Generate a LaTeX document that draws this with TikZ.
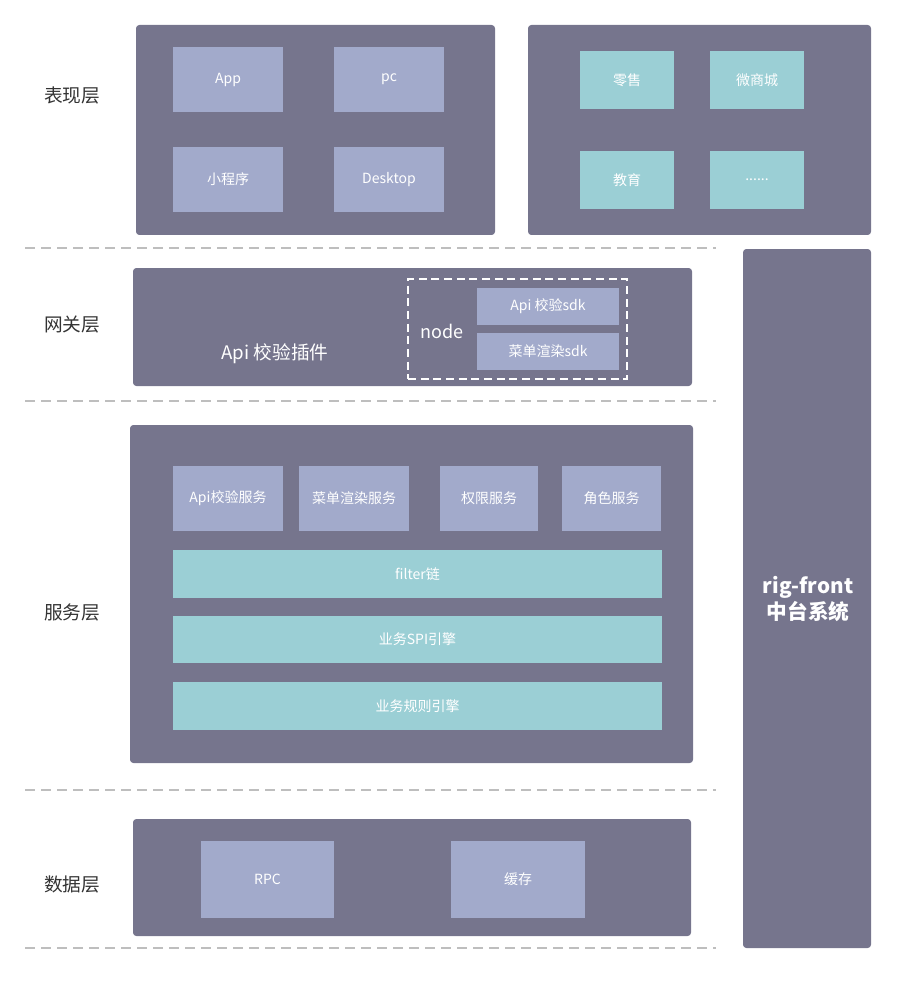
\documentclass[tikz,border=0pt]{standalone}
\usepackage{fontspec}
\setmainfont{Noto Sans CJK SC}
\definecolor{darkbox}{RGB}{118,117,141}
\definecolor{lilac}{RGB}{162,170,203}
\definecolor{teal}{RGB}{155,207,213}
\definecolor{dashgray}{RGB}{190,190,190}
\definecolor{labelgray}{RGB}{51,51,51}
\begin{document}
\begin{tikzpicture}[x=0.75pt,y=-0.75pt,
  sz/.style 2 args={minimum width=#1*0.75pt, minimum height=#2*0.75pt, inner sep=0pt, outer sep=0pt},
  bigbox/.style={fill=darkbox, rounded corners=2.5pt, draw=none},
  lilacbox/.style={fill=lilac, draw=none, text=white, font=\fontsize{10.5}{12}\selectfont},
  tealbox/.style={fill=teal, draw=none, text=white, font=\fontsize{10.5}{12}\selectfont},
  layerlabel/.style={text=labelgray, font=\fontsize{14}{16}\selectfont},
  sep/.style={draw=dashgray, line width=1.4pt, dash pattern=on 7.5pt off 4.5pt}
]
\useasboundingbox (0,0) rectangle (896,984);

% separators
\coordinate (s1a) at (25,248); \coordinate (s1b) at (716,248);
\coordinate (s2a) at (25,401); \coordinate (s2b) at (716,401);
\coordinate (s3a) at (25,790); \coordinate (s3b) at (716,790);
\coordinate (s4a) at (25,948); \coordinate (s4b) at (716,948);
\draw[sep] (s1a) -- (s1b);
\draw[sep] (s2a) -- (s2b);
\draw[sep] (s3a) -- (s3b);
\draw[sep] (s4a) -- (s4b);

% layer labels
\node[layerlabel] (l1) at (72,95) {表现层};
\node[layerlabel] (l2) at (72,325) {网关层};
\node[layerlabel] (l3) at (72,612) {服务层};
\node[layerlabel] (l4) at (72,884) {数据层};

% presentation layer
\node[bigbox, sz={359}{210}] (pres) at (315.5,130) {};
\node[lilacbox, sz={110}{65}] (app) at (228,79.5) {App};
\node[lilacbox, sz={110}{65}] (pc) at (389,79.5) {pc};
\node[lilacbox, sz={110}{65}] (mini) at (228,179.5) {小程序};
\node[lilacbox, sz={110}{65}] (desk) at (389,179.5) {Desktop};

\node[bigbox, sz={343}{210}] (biz) at (699.5,130) {};
\node[tealbox, sz={94}{58}] (retail) at (627,80) {零售};
\node[tealbox, sz={94}{58}] (mall) at (757,80) {微商城};
\node[tealbox, sz={94}{58}] (edu) at (627,180) {教育};
\node[tealbox, sz={94}{58}] (more) at (757,180) {......};

% gateway layer
\node[bigbox, sz={559}{118}] (gw) at (412.5,327) {};
\node[text=white, font=\fontsize{14}{16}\selectfont] (plugin) at (275,354) {Api 校验插件};
\node[draw=white, line width=1.3pt, dash pattern=on 6pt off 3.5pt, sz={219}{100}] (nodebox) at (517.5,329) {};
\node[text=white, font=\fontsize{13.5}{16}\selectfont] (nodetxt) at (442,331) {node};
\node[lilacbox, sz={142}{37}] (sdk1) at (548,306.5) {Api 校验sdk};
\node[lilacbox, sz={142}{37}] (sdk2) at (548,351.5) {菜单渲染sdk};

% service layer
\node[bigbox, sz={563}{338}] (svc) at (411.5,594) {};
\node[lilacbox, sz={110}{65}] (apisvc) at (228,498.5) {Api校验服务};
\node[lilacbox, sz={110}{65}] (menusvc) at (354,498.5) {菜单渲染服务};
\node[lilacbox, sz={98}{65}] (permsvc) at (489,498.5) {权限服务};
\node[lilacbox, sz={99}{65}] (rolesvc) at (611.5,498.5) {角色服务};
\node[tealbox, sz={489}{48}] (filter) at (417.5,574) {filter链};
\node[tealbox, sz={489}{47}] (spi) at (417.5,639.5) {业务SPI引擎};
\node[tealbox, sz={489}{48}] (rule) at (417.5,706) {业务规则引擎};

% data layer
\node[bigbox, sz={558}{117}] (data) at (412,877.5) {};
\node[lilacbox, sz={133}{77}] (rpc) at (267.5,879.5) {RPC};
\node[lilacbox, sz={134}{77}] (cache) at (518,879.5) {缓存};

% right bar
\node[bigbox, sz={128}{699}] (bar) at (807,598.5) {};
\node[text=white, font=\fontsize{15.5}{19}\selectfont\bfseries, align=center] (bartxt) at (808,599) {rig-front\\中台系统};
\end{tikzpicture}
\end{document}
